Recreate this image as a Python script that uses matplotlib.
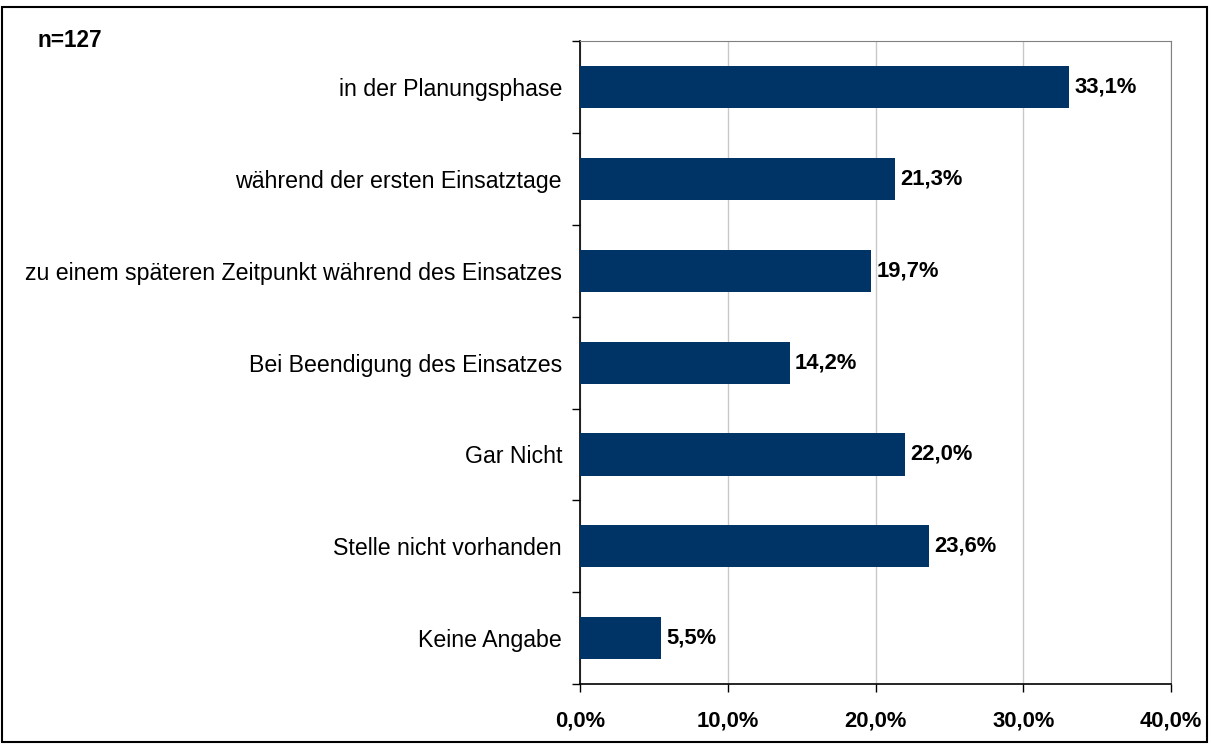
import matplotlib.pyplot as plt
from matplotlib.patches import Rectangle
from matplotlib.ticker import FuncFormatter
import numpy as np

categories = ['in der Planungsphase',
              'während der ersten Einsatztage',
              'zu einem späteren Zeitpunkt während des Einsatzes',
              'Bei Beendigung des Einsatzes',
              'Gar Nicht',
              'Stelle nicht vorhanden',
              'Keine Angabe']
values = [33.1, 21.3, 19.7, 14.2, 22.0, 23.6, 5.5]
xticks = [0, 10, 20, 30, 40]

plt.rcParams['font.family'] = ['Liberation Sans', 'DejaVu Sans']

fig = plt.figure(figsize=(12.11, 7.44), dpi=100)
ax = fig.add_axes([0.479, 0.0806, 0.488, 0.864])

n = len(categories)
y = np.arange(n)[::-1]
ax.barh(y, values, height=0.46, color='#003366', zorder=3)

for yi, v in zip(y, values):
    ax.text(v + 0.35, yi, ('%.1f%%' % v).replace('.', ','), va='center', ha='left',
            fontsize=15.8, fontweight='bold', zorder=4)

ax.set_xlim(0, 40)
ax.set_ylim(-0.5, n - 0.5)
ax.set_xticks(xticks)
ax.xaxis.set_major_formatter(FuncFormatter(lambda x, p: ('%.1f%%' % x).replace('.', ',')))
for lab in ax.get_xticklabels():
    lab.set_fontweight('bold')
ax.tick_params(axis='x', labelsize=15.8, length=6, width=1, pad=13, direction='out')

# category boundary ticks on y axis, labels at centers
ax.set_yticks(np.arange(n + 1) - 0.5)
ax.set_yticklabels([])
ax.set_yticks(y, minor=True)
ax.set_yticklabels(categories, minor=True, fontsize=16.7)
ax.tick_params(axis='y', which='major', length=6, width=1, direction='out')
ax.tick_params(axis='y', which='minor', length=0, pad=13)

ax.grid(axis='x', color='#c8c8c8', linewidth=1, zorder=0)
for s in ['top', 'right']:
    ax.spines[s].set_color('#808080')
for s in ['left', 'bottom']:
    ax.spines[s].set_color('black')
    ax.spines[s].set_linewidth(1.2)

fig.text(0.031, 0.946, 'n=127', fontsize=16.3, fontweight='bold', ha='left', va='center')

fig.patches.append(Rectangle((0.002, 0.003), 0.995, 0.987, transform=fig.transFigure,
                             fill=False, edgecolor='black', linewidth=1.5))

fig.savefig('out.png', dpi=100)
